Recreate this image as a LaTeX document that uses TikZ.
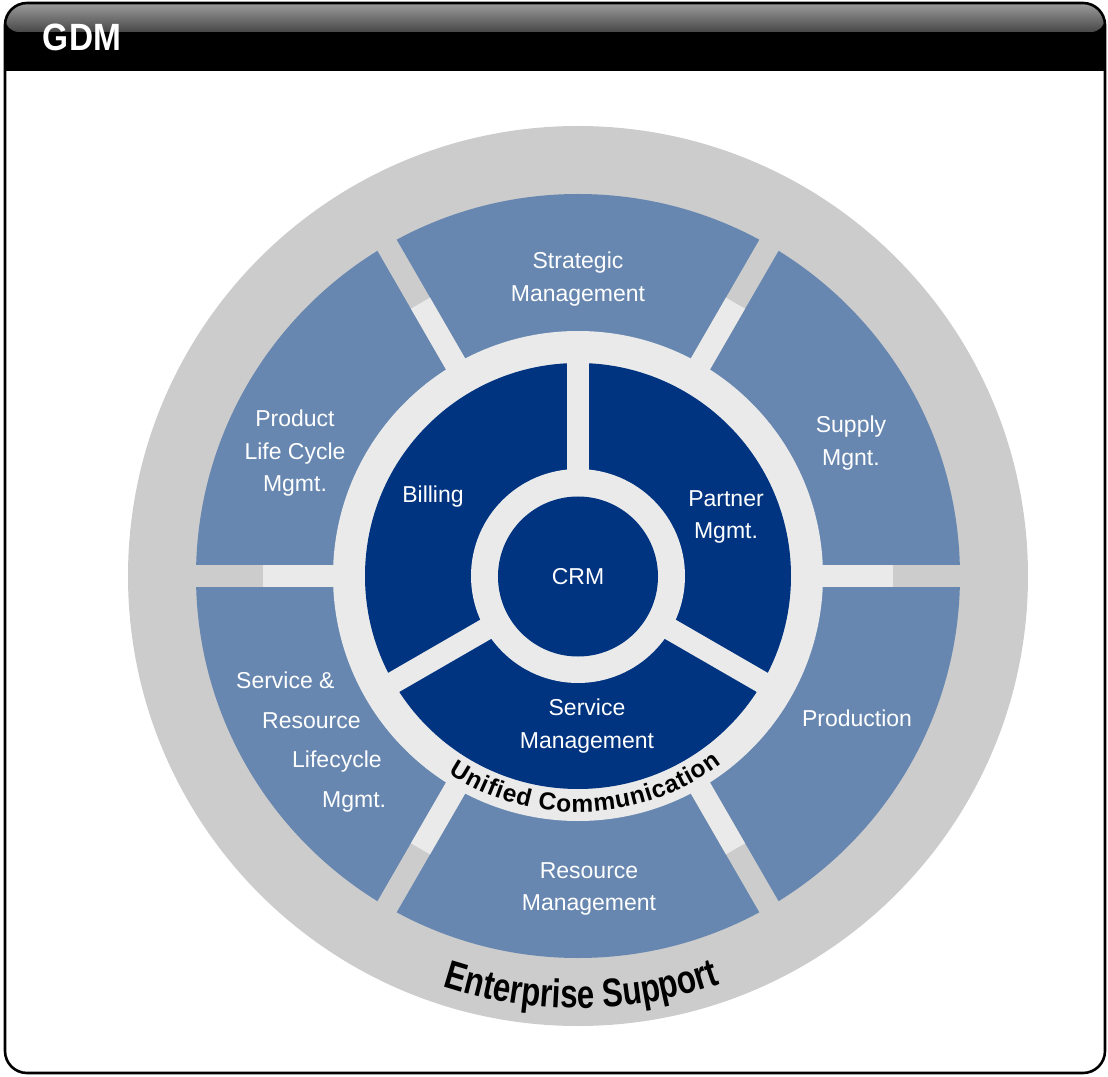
\documentclass[tikz,border=0pt]{standalone}
\usepackage{fontspec}
\setmainfont{Liberation Sans}
\newfontfamily\gdmfont[FakeStretch=0.88]{Liberation Sans}
\newfontfamily\esfont[FakeStretch=0.78]{Liberation Sans}
\usepackage{tikz}
\usetikzlibrary{decorations.text}
\definecolor{ringgrey}{HTML}{CCCCCC}
\definecolor{ringlight}{HTML}{EAEAEA}
\definecolor{segblue}{HTML}{6787B0}
\definecolor{coreblue}{HTML}{003380}
\definecolor{pilltop}{HTML}{9A9A9A}
\definecolor{pillmid}{HTML}{888888}
\definecolor{pillbot}{HTML}{474747}
\newcommand\ucfont{\fontsize{24.5}{24.5}\selectfont\bfseries\kern0.8pt}
\newcommand\esfontsize{\esfont\fontsize{40}{40}\selectfont\bfseries}

\begin{document}
\begin{tikzpicture}[x=1pt,y=1pt,line cap=butt,
  lbl/.style={text=white,font=\fontsize{23}{32.5}\selectfont,align=center},
  spoke/.style={line width=22pt}]
\useasboundingbox (-578,-500) rectangle (530,576);
\begin{scope}
\clip[rounded corners=22pt] (-573,-497) rectangle (527,573);
\fill[black] (-573,505) rectangle (527,573);
\shade[top color=pilltop,middle color=pillmid,bottom color=pillbot,rounded corners=14pt] (-573,544) rectangle (527,572);
\end{scope}
\node[text=white,font=\gdmfont\bfseries\fontsize{38}{38}\selectfont] (gdm) at (-496,539) {GDM};
\draw[line width=2.6pt,rounded corners=22pt] (-573,-497) rectangle (527,573);

\fill[ringgrey] (0,0) circle[radius=450];
\fill[segblue] (0,0) circle[radius=382];
\foreach \a in {0,60,...,300} {
  \draw[ringgrey,spoke] (0,0) -- (\a:440);
  \draw[ringlight,spoke] (0,0) -- (\a:315);
}
\fill[ringlight] (0,0) circle[radius=245];
\fill[coreblue] (0,0) circle[radius=213];
\foreach \a in {90,210,330}
  \draw[ringlight,spoke] (0,0) -- (\a:220);
\fill[ringlight] (0,0) circle[radius=107];
\node[lbl,circle,fill=coreblue,minimum size=160pt,inner sep=0pt] (crm) at (0,-0.5) {CRM};

\node[lbl] (strat) at (0,297) {Strategic\\Management};
\node[lbl] (supply) at (273,133) {Supply\\Mgnt.};
\node[lbl] (prod) at (279,-142) {Production};
\node[lbl] (resmgmt) at (11,-313) {Resource\\Management};
\node[lbl,align=left,anchor=west,inner sep=0pt,font=\fontsize{23}{39.4}\selectfont] (srlc) at (-342,-166)
  {Service \&\\\hspace*{26pt}Resource\\\hspace*{56pt}Lifecycle\\\hspace*{86pt}Mgmt.};
\node[lbl] (plc) at (-283,122.5) {Product\\Life Cycle\\Mgmt.};
\node[lbl] (billing) at (-145,79) {Billing};
\node[lbl] (partner) at (148,59) {Partner\\Mgmt.};
\node[lbl] (svcmgmt) at (9,-150) {Service\\Management};

\path[decorate,decoration={text along path,text align=center,
  text={|\ucfont|Unified Communication}}] (202:236) arc[start angle=202,end angle=342,radius=236];
\path[decorate,decoration={text along path,text align=center,
  text={|\esfontsize|Enterprise Support}}] (200:432) arc[start angle=200,end angle=341,radius=432];
\end{tikzpicture}
\end{document}
